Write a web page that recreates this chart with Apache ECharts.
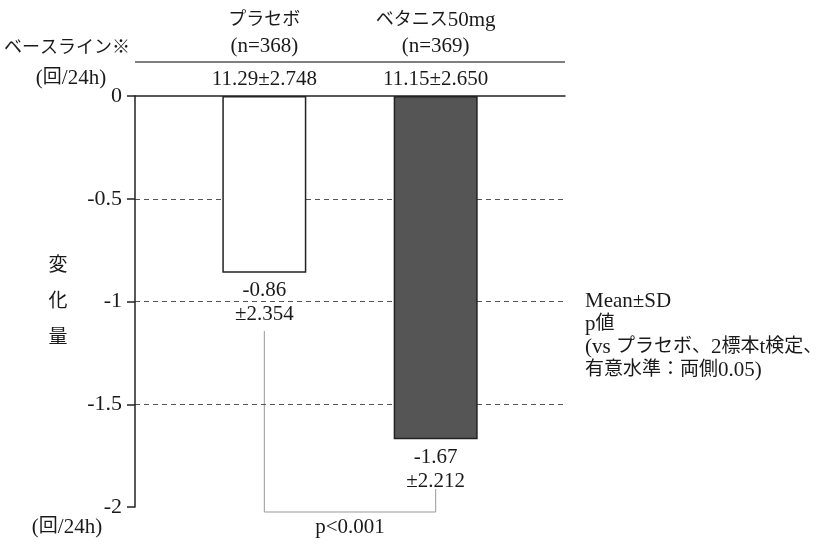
<!DOCTYPE html>
<html><head><meta charset="utf-8">
<script src="https://cdn.jsdelivr.net/npm/echarts@6/dist/echarts.min.js"></script>
<style>html,body{margin:0;padding:0;background:#fff}#c{width:819px;height:547px}</style>
</head><body><div id="c"></div>
<script>
const categories = ['プラセボ', 'ベタニス50mg'];
const nLabels = ['(n=368)', '(n=369)'];
const baseline = ['11.29±2.748', '11.15±2.650'];
const changeMean = [-0.86, -1.67];
const changeSD = ['±2.354', '±2.212'];
const yMin = -2, yMax = 0, yStep = 0.5;
const pText = 'p<0.001';
const noteLines = ['Mean±SD', 'p値', '(vs プラセボ、2標本t検定、', '有意水準：両側0.05)'];

const FONT = "'Liberation Serif', 'Noto Sans CJK JP', serif";
const TXT = '#1a1a1a';
const G = {left: 135, right: 254, top: 96, bottom: 40};
const W = 819, H = 547;
const barW = 84, gapPct = 1.04;
const gw = W - G.left - G.right;
const cx = G.left + gw / 2;
const half = (barW * 2 + barW * gapPct) / 2;
const centers = [cx - half + barW / 2, cx + half - barW / 2];
const fills = ['#ffffff', '#555555'];

const chart = echarts.init(document.getElementById('c'), null, {renderer: 'canvas'});

const series = categories.map((name, i) => ({
  type: 'bar', name: name, data: [changeMean[i]],
  barWidth: barW, barGap: (gapPct * 100) + '%', z: 3,
  itemStyle: {color: fills[i], borderColor: '#222', borderWidth: 1.5},
  label: {
    show: true, position: 'bottom', distance: 6,
    formatter: p => String(p.value) + '\n' + changeSD[i],
    fontFamily: FONT, fontSize: 21, lineHeight: 24, color: TXT
  }
}));

// mixed text: Latin runs larger, CJK runs smaller
function mixed(s) {
  return s.replace(/[\x20-\x7E±]+/g, m => '{a|' + m + '}').replace(/(^|\})([^{}]+)(?=\{|$)/g, (m, p, t) => p + '{j|' + t + '}');
}
const graphics = [];
function txt(x, y, s, opts, jSize, aSize) {
  const st = Object.assign({text: s, fontFamily: FONT, fontSize: 20, fill: TXT,
      textAlign: 'center', textVerticalAlign: 'middle'}, opts || {});
  if (jSize) {
    st.text = mixed(s);
    st.rich = {
      a: {fontFamily: FONT, fontSize: aSize, fill: TXT},
      j: {fontFamily: FONT, fontSize: jSize, fill: TXT}
    };
  }
  graphics.push({type: 'text', x: x, y: y, silent: true, style: st});
}
categories.forEach((c, i) => {
  txt(centers[i], 20, c, {}, 18, 21);
  txt(centers[i], 46, nLabels[i], {fontSize: 21});
  txt(centers[i], 79, baseline[i], {fontSize: 21});
});
graphics.push({type: 'line', silent: true,
  shape: {x1: G.left, y1: 62, x2: W - G.right, y2: 62},
  style: {stroke: '#555', lineWidth: 1.5}});
txt(130, 48, 'ベースライン※', {textAlign: 'right', fontSize: 18});
txt(71, 78, '(回/24h)', {}, 19, 21);
txt(67, 527, '(回/24h)', {}, 19, 21);
txt(58, 302, '変\n化\n量', {lineHeight: 36, fontSize: 19});
noteLines.forEach((s, i) => txt(585, 301 + i * 23, s, {textAlign: 'left'}, 19, 21));
graphics.push({type: 'polyline', silent: true,
  shape: {points: [[centers[0], 331], [centers[0], 512], [centers[1], 512], [centers[1], 489]]},
  style: {stroke: '#999', lineWidth: 1, fill: null}});
txt(cx, 527, pText, {fontSize: 21});

chart.setOption({
  animation: false,
  backgroundColor: '#fff',
  grid: G,
  xAxis: {
    type: 'category', data: [''],
    axisLine: {show: true, onZero: true, lineStyle: {color: '#222', width: 1.5}},
    axisTick: {show: false}, axisLabel: {show: false}, splitLine: {show: false}
  },
  yAxis: {
    type: 'value', min: yMin, max: yMax, interval: yStep,
    axisLine: {show: true, lineStyle: {color: '#222', width: 1.5}},
    axisTick: {show: true, length: 8, lineStyle: {color: '#222', width: 1.5}},
    axisLabel: {fontFamily: FONT, fontSize: 22, color: TXT, margin: 13},
    splitLine: {show: true, showMinLine: false, showMaxLine: false,
      lineStyle: {color: '#555', width: 1, type: [5, 4]}}
  },
  series: series,
  graphic: graphics
});
</script></body></html>
